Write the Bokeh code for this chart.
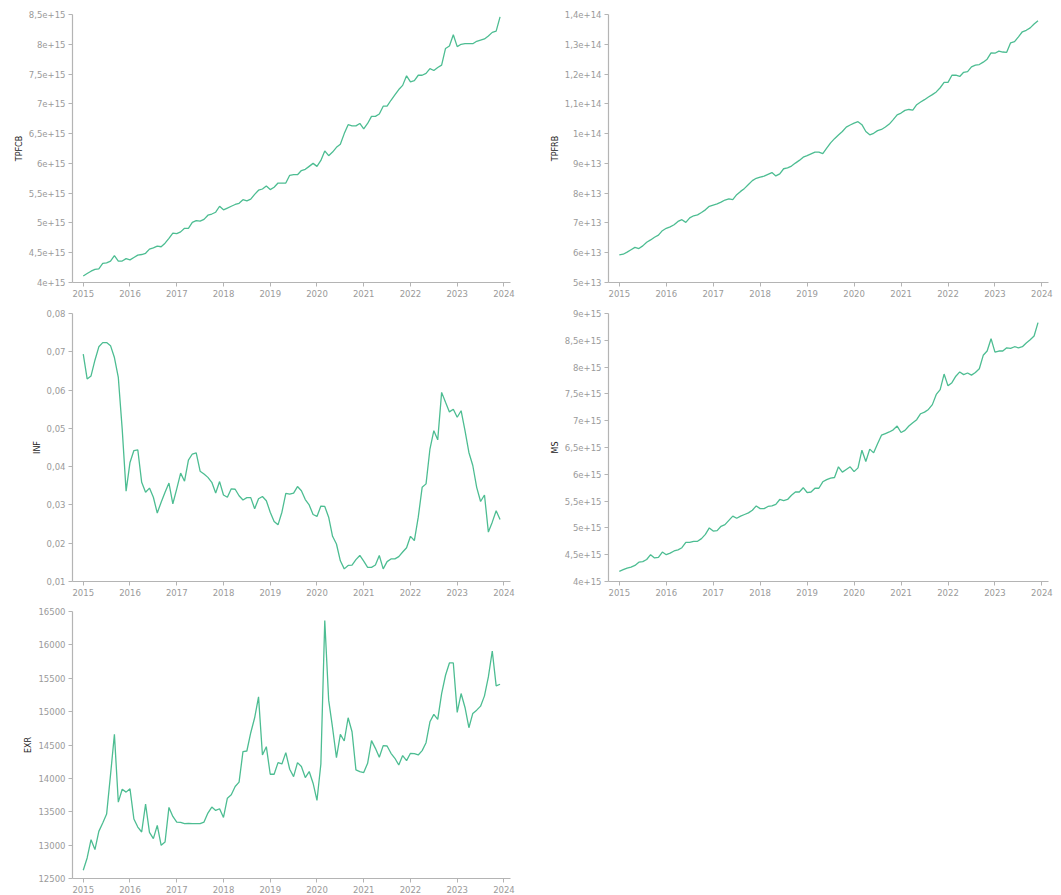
import numpy as np
from bokeh.plotting import figure
from bokeh.layouts import gridplot
from bokeh.models import FixedTicker, Range1d
from bokeh.embed import file_html
from bokeh.resources import INLINE

# Monthly observations, January 2015 through December 2023
YEARS = list(range(2015, 2024))
X_TICK_YEARS = list(range(2015, 2025))

# Total third-party funds, commercial banks (units of 1e15)
TPFCB = [
    4.11, 4.15, 4.19, 4.22, 4.23, 4.32, 4.33, 4.36, 4.45, 4.36, 4.36, 4.40,
    4.38, 4.42, 4.46, 4.47, 4.49, 4.56, 4.58, 4.61, 4.60, 4.66, 4.74, 4.83,
    4.82, 4.85, 4.91, 4.91, 5.01, 5.04, 5.03, 5.06, 5.13, 5.15, 5.18, 5.28,
    5.22, 5.25, 5.28, 5.31, 5.33, 5.39, 5.37, 5.40, 5.48, 5.55, 5.57, 5.62,
    5.56, 5.60, 5.67, 5.67, 5.67, 5.80, 5.81, 5.81, 5.88, 5.90, 5.95, 6.00,
    5.95, 6.05, 6.21, 6.13, 6.19, 6.27, 6.32, 6.50, 6.65, 6.63, 6.63, 6.67,
    6.58, 6.67, 6.79, 6.79, 6.83, 6.96, 6.96, 7.06, 7.15, 7.24, 7.31, 7.47,
    7.37, 7.39, 7.48, 7.48, 7.51, 7.59, 7.56, 7.61, 7.65, 7.93, 7.97, 8.16,
    7.96, 8.00, 8.01, 8.01, 8.01, 8.05, 8.07, 8.09, 8.14, 8.20, 8.22, 8.46,
]

# Total third-party funds, rural banks (units of 1e13)
TPFRB = [
    5.93, 5.95, 6.02, 6.10, 6.18, 6.14, 6.23, 6.35, 6.43, 6.52, 6.59, 6.74,
    6.82, 6.87, 6.94, 7.05, 7.11, 7.02, 7.17, 7.24, 7.27, 7.35, 7.44, 7.56,
    7.60, 7.64, 7.70, 7.77, 7.81, 7.78, 7.95, 8.06, 8.16, 8.29, 8.42, 8.50,
    8.54, 8.57, 8.63, 8.69, 8.58, 8.65, 8.82, 8.85, 8.91, 9.01, 9.10, 9.21,
    9.26, 9.32, 9.38, 9.38, 9.33, 9.51, 9.69, 9.83, 9.95, 10.07, 10.22, 10.29,
    10.35, 10.40, 10.30, 10.07, 9.96, 10.01, 10.10, 10.14, 10.22, 10.32, 10.47, 10.63,
    10.69, 10.78, 10.81, 10.79, 10.97, 11.06, 11.14, 11.23, 11.31, 11.40, 11.54, 11.72,
    11.72, 11.96, 11.96, 11.92, 12.06, 12.08, 12.24, 12.30, 12.32, 12.40, 12.50, 12.71,
    12.70, 12.77, 12.74, 12.73, 13.05, 13.09, 13.25, 13.42, 13.47, 13.55, 13.68, 13.79,
]

# Inflation rate (year on year)
INF = [
    0.0694, 0.0629, 0.0637, 0.0678, 0.0713, 0.0724, 0.0724, 0.0716, 0.0685, 0.0633, 0.0498, 0.0336,
    0.0411, 0.0442, 0.0444, 0.0359, 0.0333, 0.0344, 0.0320, 0.0279, 0.0307, 0.0333, 0.0357, 0.0303,
    0.0342, 0.0383, 0.0362, 0.0417, 0.0433, 0.0436, 0.0388, 0.0381, 0.0372, 0.0359, 0.0331, 0.0361,
    0.0326, 0.0320, 0.0342, 0.0341, 0.0324, 0.0313, 0.0319, 0.0319, 0.0290, 0.0316, 0.0322, 0.0311,
    0.0281, 0.0257, 0.0248, 0.0281, 0.0330, 0.0328, 0.0331, 0.0348, 0.0337, 0.0314, 0.0300, 0.0275,
    0.0270, 0.0297, 0.0296, 0.0268, 0.0218, 0.0198, 0.0154, 0.0133, 0.0142, 0.0143, 0.0157, 0.0168,
    0.0153, 0.0137, 0.0137, 0.0143, 0.0168, 0.0133, 0.0152, 0.0159, 0.0159, 0.0165, 0.0177, 0.0188,
    0.0218, 0.0207, 0.0268, 0.0346, 0.0355, 0.0446, 0.0494, 0.0470, 0.0594, 0.0568, 0.0543, 0.0550,
    0.0529, 0.0546, 0.0494, 0.0437, 0.0403, 0.0346, 0.0309, 0.0326, 0.0229, 0.0255, 0.0285, 0.0262,
]

# Money supply (units of 1e15)
MS = [
    4.19, 4.22, 4.25, 4.27, 4.30, 4.36, 4.37, 4.41, 4.50, 4.44, 4.45, 4.55,
    4.50, 4.53, 4.57, 4.59, 4.63, 4.73, 4.73, 4.75, 4.75, 4.80, 4.88, 5.00,
    4.94, 4.95, 5.03, 5.06, 5.14, 5.22, 5.18, 5.22, 5.25, 5.28, 5.33, 5.41,
    5.36, 5.36, 5.40, 5.41, 5.44, 5.53, 5.51, 5.53, 5.61, 5.67, 5.67, 5.75,
    5.66, 5.67, 5.74, 5.74, 5.86, 5.90, 5.93, 5.94, 6.14, 6.04, 6.09, 6.14,
    6.05, 6.12, 6.45, 6.24, 6.47, 6.40, 6.57, 6.73, 6.76, 6.79, 6.83, 6.90,
    6.78, 6.82, 6.90, 6.96, 7.02, 7.13, 7.16, 7.21, 7.30, 7.49, 7.58, 7.87,
    7.65, 7.71, 7.83, 7.91, 7.86, 7.89, 7.85, 7.90, 7.97, 8.22, 8.30, 8.53,
    8.28, 8.30, 8.30, 8.36, 8.35, 8.38, 8.36, 8.38, 8.45, 8.51, 8.58, 8.83,
]

# Exchange rate
EXR = [
    12624, 12808, 13082, 12933, 13206, 13331, 13465, 14052, 14659, 13644, 13838, 13794,
    13843, 13391, 13271, 13197, 13614, 13192, 13097, 13296, 12998, 13047, 13565, 13430,
    13346, 13341, 13321, 13326, 13321, 13321, 13321, 13346, 13480, 13570, 13520, 13545,
    13415, 13704, 13754, 13878, 13943, 14400, 14410, 14684, 14908, 15221, 14351, 14475,
    14062, 14062, 14236, 14216, 14386, 14137, 14027, 14236, 14177, 14012, 14102, 13928,
    13669, 14216, 16366, 15172, 14759, 14311, 14659, 14560, 14908, 14699, 14127, 14102,
    14087, 14226, 14565, 14450, 14316, 14490, 14485, 14376, 14301, 14201, 14341, 14266,
    14376, 14371, 14351, 14416, 14535, 14848, 14958, 14883, 15271, 15545, 15729, 15729,
    14988, 15271, 15062, 14759, 14973, 15022, 15082, 15236, 15520, 15908, 15386, 15410,
]

# Y axis ticks for each panel
TPFCB_TICKS = [4e15, 4.5e15, 5e15, 5.5e15, 6e15, 6.5e15, 7e15, 7.5e15, 8e15, 8.5e15]
TPFRB_TICKS = [5e13, 6e13, 7e13, 8e13, 9e13, 1e14, 1.1e14, 1.2e14, 1.3e14, 1.4e14]
INF_TICKS = [0.01, 0.02, 0.03, 0.04, 0.05, 0.06, 0.07, 0.08]
MS_TICKS = [4e15, 4.5e15, 5e15, 5.5e15, 6e15, 6.5e15, 7e15, 7.5e15, 8e15, 8.5e15, 9e15]
EXR_TICKS = [12500, 13000, 13500, 14000, 14500, 15000, 15500, 16000, 16500]

LINE_COLOR = "#4dbd92"
AXIS_COLOR = "#b4b4b4"
TICK_TEXT = "#9a9a9a"
FONT = "DejaVu Sans"

x = [y + m / 12 for y in YEARS for m in range(12)]


def tick_text(v):
    return f"{v:g}".replace(".", ",")


def panel(name, values, scale, ticks, width, height, left, right, top, bottom):
    p = figure(width=width, height=height, output_backend="svg",
               toolbar_location=None, tools="",
               x_range=Range1d(2014.77, 2024.14),
               y_range=Range1d(ticks[0], ticks[-1]),
               min_border_left=left, min_border_right=right,
               min_border_top=top, min_border_bottom=bottom)
    p.line(x, [v * scale for v in values], line_color=LINE_COLOR, line_width=1.3)
    p.outline_line_color = None
    p.background_fill_color = "white"
    p.border_fill_color = "white"
    p.xgrid.visible = False
    p.ygrid.visible = False

    p.xaxis.ticker = FixedTicker(ticks=X_TICK_YEARS)
    p.xaxis.major_label_overrides = {yr: str(yr) for yr in X_TICK_YEARS}
    p.yaxis.ticker = FixedTicker(ticks=ticks)
    p.yaxis.major_label_overrides = {t: tick_text(t) for t in ticks}
    p.yaxis.axis_label = name

    for ax in (p.xaxis[0], p.yaxis[0]):
        ax.axis_line_color = AXIS_COLOR
        ax.axis_line_width = 1.2
        ax.major_tick_line_color = AXIS_COLOR
        ax.major_tick_out = 4
        ax.major_tick_in = 0
        ax.minor_tick_line_color = None
        ax.major_label_text_color = TICK_TEXT
        ax.major_label_text_font = FONT
        ax.major_label_text_font_size = "8.5px"
        ax.major_label_standoff = 3
    p.yaxis.axis_label_text_font = FONT
    p.yaxis.axis_label_text_font_size = "8px"
    p.yaxis.axis_label_text_font_style = "normal"
    p.yaxis.axis_label_text_color = "#222222"
    p.yaxis.axis_label_standoff = 2
    return p


p1 = panel("TPFCB", TPFCB, 1e15, TPFCB_TICKS, 530, 300, 72, 15, 14, 18)
p2 = panel("TPFRB", TPFRB, 1e13, TPFRB_TICKS, 531, 300, 77, 13, 14, 18)
p3 = panel("INF", INF, 1.0, INF_TICKS, 530, 299, 69, 15, 13, 18)
p4 = panel("MS", MS, 1e15, MS_TICKS, 531, 299, 78, 4, 13, 18)
p5 = panel("EXR", EXR, 1.0, EXR_TICKS, 530, 296, 71, 20, 12, 16)

grid = gridplot([[p1, p2], [p3, p4], [p5, None]], toolbar_location=None)

open("out.html", "w").write(file_html(grid, INLINE))
